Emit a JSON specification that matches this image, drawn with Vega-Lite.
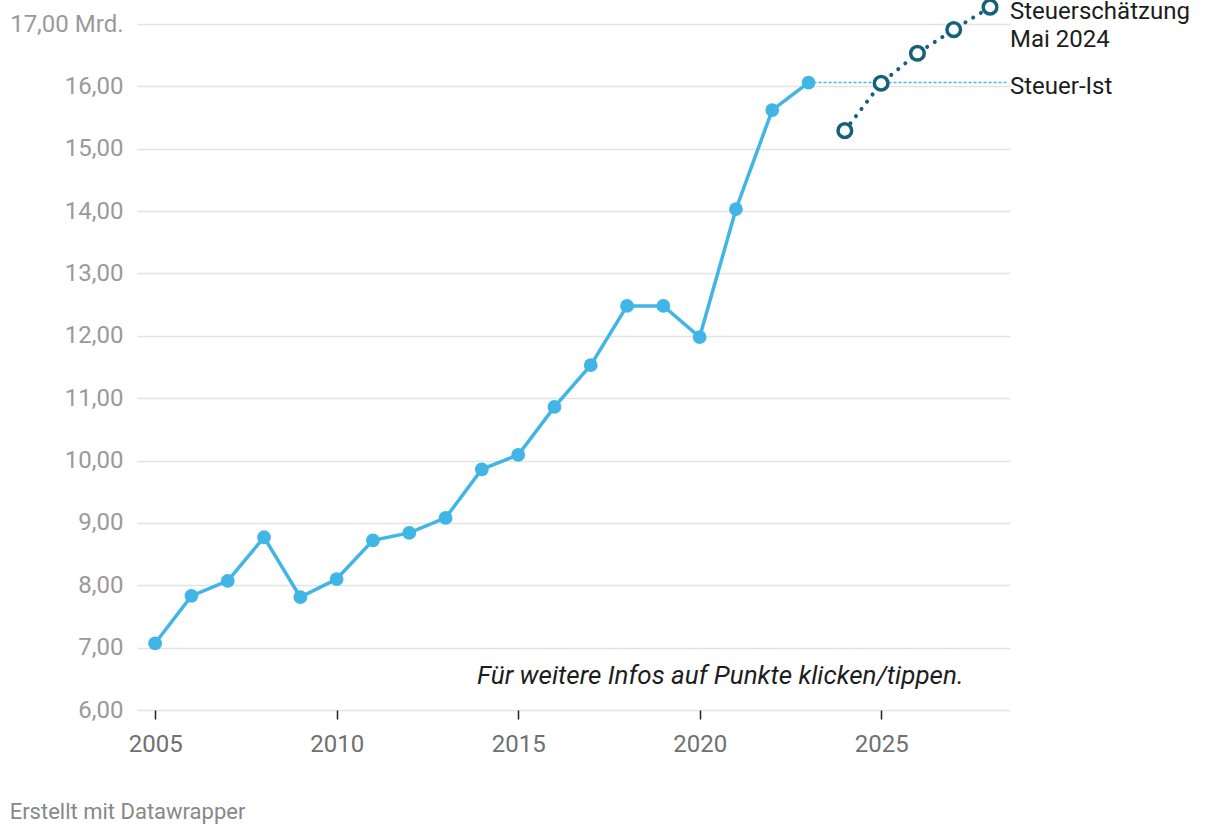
{
  "$schema": "https://vega.github.io/schema/vega-lite/v6.json",
  "autosize": {"type": "none"},
  "width": 873,
  "height": 686,
  "padding": {"left": 137, "top": 24, "right": 210, "bottom": 126},
  "background": "white",
  "config": {
    "view": {"stroke": null},
    "font": "Roboto",
    "title": {"font": "Roboto"}
  },
  "title": {
    "text": "Erstellt mit Datawrapper",
    "orient": "bottom",
    "anchor": "start",
    "frame": "bounds",
    "offset": 46,
    "fontSize": 22,
    "fontWeight": "normal",
    "color": "#888888"
  },
  "datasets": {
    "ist": [
      {"year": 2005, "value": 7.07},
      {"year": 2006, "value": 7.83},
      {"year": 2007, "value": 8.07},
      {"year": 2008, "value": 8.77},
      {"year": 2009, "value": 7.81},
      {"year": 2010, "value": 8.10},
      {"year": 2011, "value": 8.72},
      {"year": 2012, "value": 8.84},
      {"year": 2013, "value": 9.08},
      {"year": 2014, "value": 9.86},
      {"year": 2015, "value": 10.09},
      {"year": 2016, "value": 10.86},
      {"year": 2017, "value": 11.53},
      {"year": 2018, "value": 12.48},
      {"year": 2019, "value": 12.48},
      {"year": 2020, "value": 11.98},
      {"year": 2021, "value": 14.03},
      {"year": 2022, "value": 15.62},
      {"year": 2023, "value": 16.06}
    ],
    "schaetzung": [
      {"year": 2024, "value": 15.29},
      {"year": 2025, "value": 16.05},
      {"year": 2026, "value": 16.53},
      {"year": 2027, "value": 16.91},
      {"year": 2028, "value": 17.27}
    ],
    "ref": [
      {"x": 2023, "x2": 2028.45, "y": 16.06}
    ],
    "labels": [
      {"x": 2028.55, "y": 17.19, "label": "Steuerschätzung"},
      {"x": 2028.55, "y": 16.75, "label": "Mai 2024"},
      {"x": 2028.55, "y": 15.99, "label": "Steuer-Ist"}
    ],
    "note": [
      {"x": 2027.27, "y": 6.545, "label": "Für weitere Infos auf Punkte klicken/tippen."}
    ]
  },
  "layer": [
    {
      "data": {"name": "ref"},
      "mark": {"type": "rule", "color": "#41b6e6", "strokeWidth": 1.5, "strokeDash": [3, 2]},
      "encoding": {
        "x": {"field": "x", "type": "quantitative", "scale": {"domain": [2004.5, 2028.55], "nice": false, "zero": false},
          "axis": {
            "values": [2005, 2010, 2015, 2020, 2025],
            "format": "d",
            "title": null,
            "grid": false,
            "domain": false,
            "ticks": true,
            "tickColor": "#222222",
            "tickSize": 9,
            "tickWidth": 1.5,
            "labelFont": "Roboto",
            "labelFontSize": 24,
            "labelColor": "#707070",
            "labelPadding": 13
          }},
        "x2": {"field": "x2"},
        "y": {"field": "y", "type": "quantitative", "scale": {"domain": [6, 17], "nice": false, "zero": false},
          "axis": {
            "values": [6, 7, 8, 9, 10, 11, 12, 13, 14, 15, 16, 17],
            "labelExpr": "replace(format(datum.value, '.2f'), '.', ',') + (datum.value == 17 ? ' Mrd.' : '')",
            "title": null,
            "grid": true,
            "gridColor": "#e3e3e3",
            "gridWidth": 1.5,
            "domain": false,
            "ticks": false,
            "labelFont": "Roboto",
            "labelFontSize": 24,
            "labelColor": "#9a9a9a",
            "labelPadding": 14
          }}
      }
    },
    {
      "data": {"name": "ist"},
      "mark": {"type": "line", "color": "#41b6e6", "strokeWidth": 3.5, "clip": false},
      "encoding": {
        "x": {"field": "year", "type": "quantitative"},
        "y": {"field": "value", "type": "quantitative"}
      }
    },
    {
      "data": {"name": "ist"},
      "mark": {"type": "point", "filled": true, "color": "#41b6e6", "opacity": 1, "size": 190, "clip": false},
      "encoding": {
        "x": {"field": "year", "type": "quantitative"},
        "y": {"field": "value", "type": "quantitative"}
      }
    },
    {
      "data": {"name": "schaetzung"},
      "mark": {"type": "line", "color": "#15607a", "strokeWidth": 4, "strokeDash": [0.1, 9], "strokeCap": "round", "clip": false},
      "encoding": {
        "x": {"field": "year", "type": "quantitative"},
        "y": {"field": "value", "type": "quantitative"}
      }
    },
    {
      "data": {"name": "schaetzung"},
      "mark": {"type": "point", "filled": false, "fill": "white", "fillOpacity": 1, "stroke": "#15607a", "strokeWidth": 3.5, "opacity": 1, "size": 185, "clip": false},
      "encoding": {
        "x": {"field": "year", "type": "quantitative"},
        "y": {"field": "value", "type": "quantitative"}
      }
    },
    {
      "data": {"name": "labels"},
      "mark": {"type": "text", "align": "left", "baseline": "middle", "font": "Roboto", "fontSize": 24, "color": "#1d1d1d", "clip": false},
      "encoding": {
        "x": {"field": "x", "type": "quantitative"},
        "y": {"field": "y", "type": "quantitative"},
        "text": {"field": "label"}
      }
    },
    {
      "data": {"name": "note"},
      "mark": {"type": "text", "align": "right", "baseline": "middle", "font": "Roboto", "fontSize": 26, "fontStyle": "italic", "color": "#1d1d1d"},
      "encoding": {
        "x": {"field": "x", "type": "quantitative"},
        "y": {"field": "y", "type": "quantitative"},
        "text": {"field": "label"}
      }
    }
  ]
}
